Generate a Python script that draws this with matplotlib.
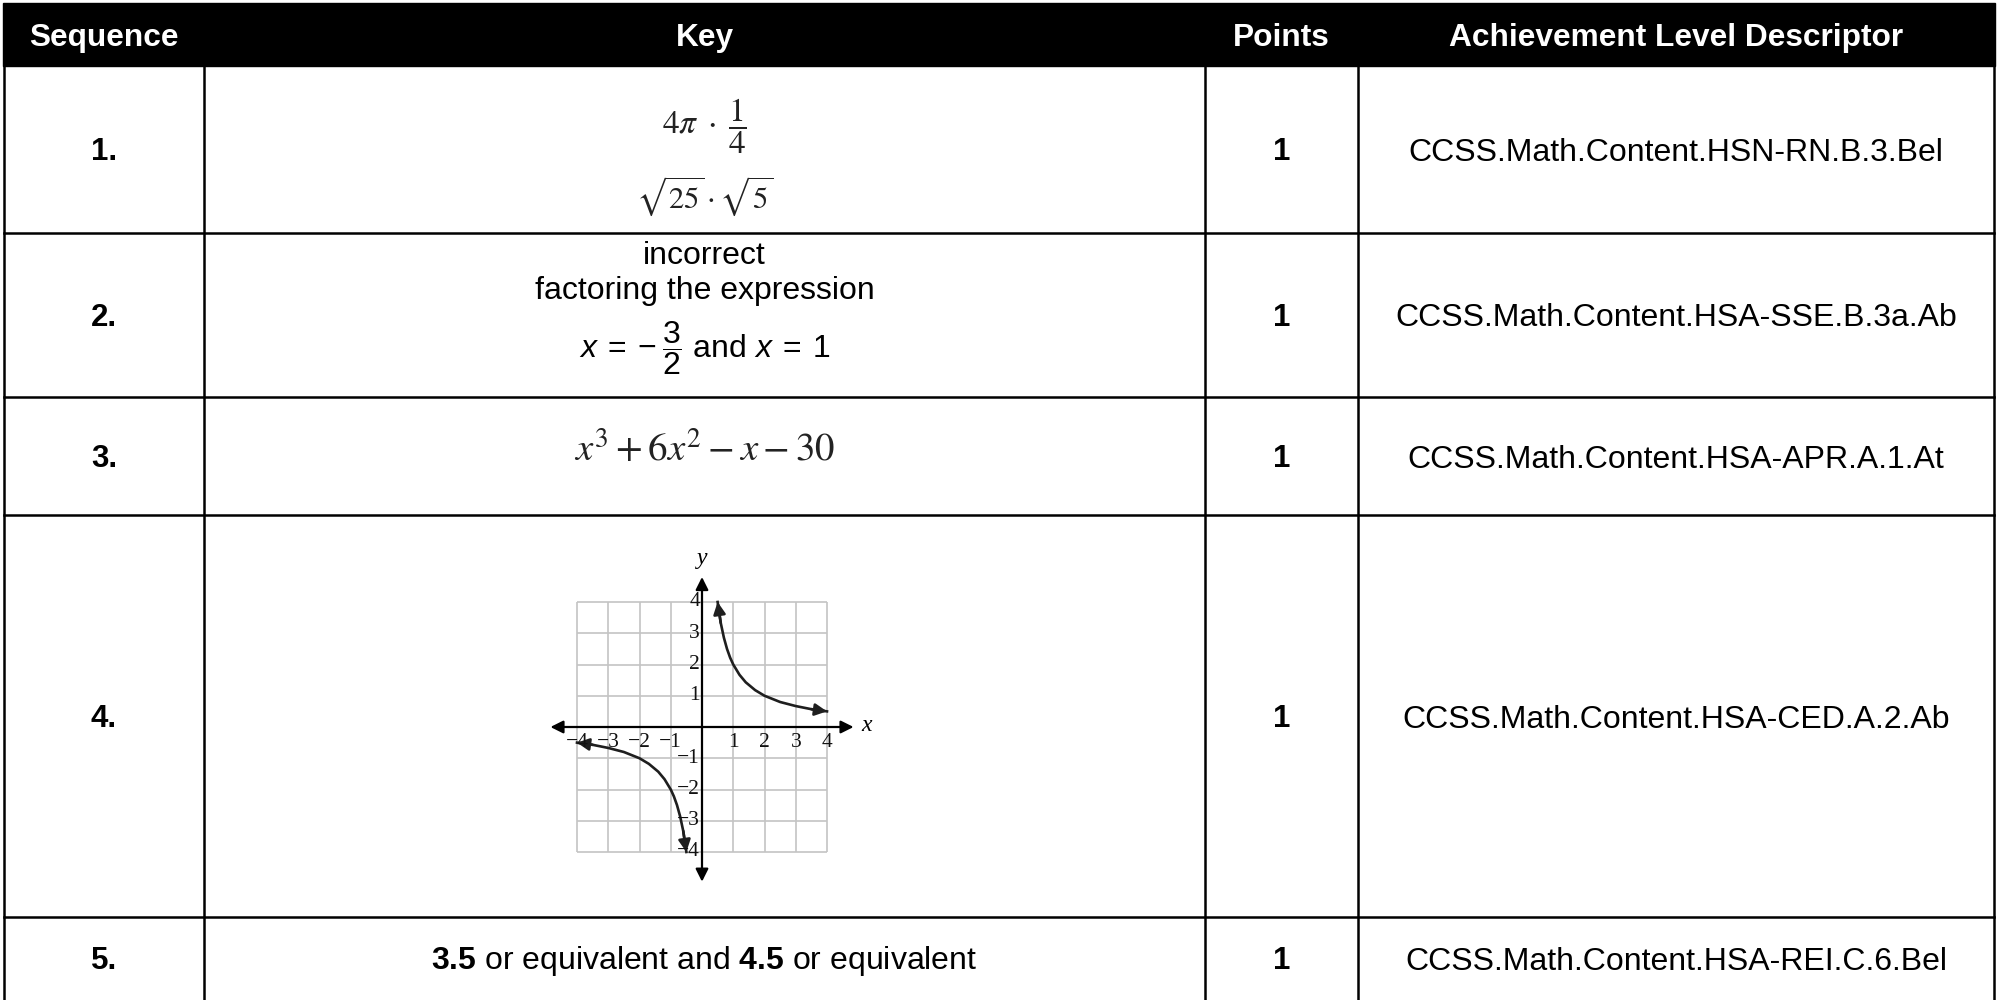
import matplotlib
matplotlib.use("Agg")
import matplotlib.pyplot as plt
from matplotlib.patches import Rectangle

plt.rcParams["font.family"] = ["Liberation Sans", "DejaVu Sans"]
plt.rcParams["mathtext.fontset"] = "custom"
plt.rcParams["mathtext.rm"] = "Liberation Sans"
plt.rcParams["mathtext.it"] = "Liberation Sans:italic"
plt.rcParams["mathtext.bf"] = "Liberation Sans:bold"

# Table content
headers = ["Sequence", "Key", "Points", "Achievement Level Descriptor"]
sequence = ["1.", "2.", "3.", "4.", "5."]
points = ["1", "1", "1", "1", "1"]
descriptors = [
    "CCSS.Math.Content.HSN-RN.B.3.Bel",
    "CCSS.Math.Content.HSA-SSE.B.3a.Ab",
    "CCSS.Math.Content.HSA-APR.A.1.At",
    "CCSS.Math.Content.HSA-CED.A.2.Ab",
    "CCSS.Math.Content.HSA-REI.C.6.Bel",
]
key1 = [r"$4\pi\;\cdot\;\dfrac{1}{4}$", r"$\sqrt{25}\cdot\sqrt{5}$"]
key2 = ["incorrect", "factoring the expression",
        r"$x\:=\:-\:\dfrac{3}{2}$ and $x\:=\:1$"]
key3 = r"$x^3 + 6x^2 - x - 30$"
key5 = r"$\mathbf{3.5}$ or equivalent and $\mathbf{4.5}$ or equivalent"

# Graph for key 4
grid_ticks = [-4, -3, -2, -1, 0, 1, 2, 3, 4]
tick_labels = [-4, -3, -2, -1, 1, 2, 3, 4]
right_x = [0.5, 0.6, 0.7, 0.8, 0.9, 1.0, 1.2, 1.4, 1.7, 2.0, 2.5, 3.0, 3.5, 4.0]
right_y = [4.0, 3.33, 2.86, 2.5, 2.22, 2.0, 1.67, 1.43, 1.18, 1.0, 0.8, 0.67, 0.57, 0.5]
left_x = [-4.0, -3.5, -3.0, -2.5, -2.0, -1.7, -1.4, -1.2, -1.0, -0.9, -0.8, -0.7, -0.6, -0.5]
left_y = [-0.5, -0.57, -0.67, -0.8, -1.0, -1.18, -1.43, -1.67, -2.0, -2.22, -2.5, -2.86, -3.33, -4.0]

# layout in pixels
W, H = 1997, 1000
col_x = [4, 204, 1205, 1358, 1994]
row_y = [66, 233, 397, 515, 917, 1000]
row_c = [149.5, 315, 456, 716, 958]

fig = plt.figure(figsize=(W / 100, H / 100), dpi=100)
ax = fig.add_axes([0, 0, 1, 1])
ax.set_xlim(0, W)
ax.set_ylim(H, 0)
ax.axis("off")

lw = 1.8
# header band
ax.add_patch(Rectangle((3, 3), 1992, 63, color="black", zorder=1))
col_c = [(col_x[i] + col_x[i + 1]) / 2 for i in range(4)]
for c, h in zip(col_c, headers):
    ax.text(c, 46, h, color="white", fontsize=22.8, fontweight="bold",
            ha="center", va="baseline")

# grid lines
for y in row_y[1:-1]:
    ax.plot([col_x[0], col_x[-1]], [y, y], color="black", lw=lw, solid_capstyle="projecting")
for x in col_x:
    ax.plot([x, x], [60, H], color="black", lw=lw)

# row contents
for i in range(5):
    ax.text(col_c[0], row_c[i] + 11, sequence[i], fontsize=22.5, fontweight="bold",
            ha="center", va="baseline")
    ax.text(col_c[2], row_c[i] + 11, points[i], fontsize=22.5, fontweight="bold",
            ha="center", va="baseline")
    ax.text(col_c[3], row_c[i] + 11.5, descriptors[i], fontsize=23,
            ha="center", va="baseline")

math_col = "#222222"
ax.text(col_c[1], 126, key1[0], fontsize=24, math_fontfamily="stix",
        color=math_col, ha="center", va="center")
ax.text(col_c[1], 196, key1[1], fontsize=22, math_fontfamily="stix",
        color=math_col, ha="center", va="center")

ax.text(col_c[1], 264, key2[0], fontsize=23, ha="center", va="baseline")
ax.text(col_c[1], 299, key2[1], fontsize=23, ha="center", va="baseline")
ax.text(col_c[1], 357, key2[2], fontsize=23, ha="center", va="baseline")

ax.text(col_c[1], 450, key3, fontsize=28, math_fontfamily="stix",
        color=math_col, ha="center", va="center")

ax.text(col_c[1], row_c[4] + 11.5, key5, fontsize=23, ha="center", va="baseline")

# inset graph, origin at (702, 727) px, 31.25 px per unit
span = 5.6
unit = 31.25
ox, oy = 702, 727
gax = fig.add_axes([(ox - span * unit) / W, 1 - (oy + span * unit) / H,
                    2 * span * unit / W, 2 * span * unit / H])
gax.set_xlim(-span, span)
gax.set_ylim(-span, span)
gax.axis("off")

gax.vlines(grid_ticks, -4, 4, color="#c4c4c4", lw=1.2, zorder=1)
gax.hlines(grid_ticks, -4, 4, color="#c4c4c4", lw=1.2, zorder=1)

axis_arrow = dict(arrowstyle="<|-|>", color="black", lw=1.6, mutation_scale=19,
                  shrinkA=0, shrinkB=0)
gax.annotate("", xy=(4.85, 0), xytext=(-4.85, 0), arrowprops=axis_arrow, zorder=3)
gax.annotate("", xy=(0, 4.8), xytext=(0, -4.95), arrowprops=axis_arrow, zorder=3)

curve_col = "#1e1e1e"
for xs, ys in [(right_x, right_y), (left_x, left_y)]:
    gax.plot(xs, ys, color=curve_col, lw=1.9, zorder=4)
    head = dict(arrowstyle="-|>", color=curve_col, lw=1.9, mutation_scale=18,
                shrinkA=0, shrinkB=0)
    gax.annotate("", xy=(xs[0], ys[0]), xytext=(xs[1], ys[1]), arrowprops=head, zorder=4)
    gax.annotate("", xy=(xs[-1], ys[-1]), xytext=(xs[-2], ys[-2]), arrowprops=head, zorder=4)

serif = "Liberation Serif"
for t in tick_labels:
    lab = str(t).replace("-", "\u2212")
    gax.text(t, -0.5, lab, family=serif, fontsize=15.5, ha="center", va="center",
             color="#111111", zorder=5)
    gax.text(-0.06, t, lab, family=serif, fontsize=15.5, ha="right", va="center",
             color="#111111", zorder=5)
gax.text(5.25, 0.05, "x", family=serif, style="italic", fontsize=17,
         ha="center", va="center")
gax.text(0, 5.4, "y", family=serif, style="italic", fontsize=17,
         ha="center", va="center")

fig.savefig("out.png", dpi=100)
